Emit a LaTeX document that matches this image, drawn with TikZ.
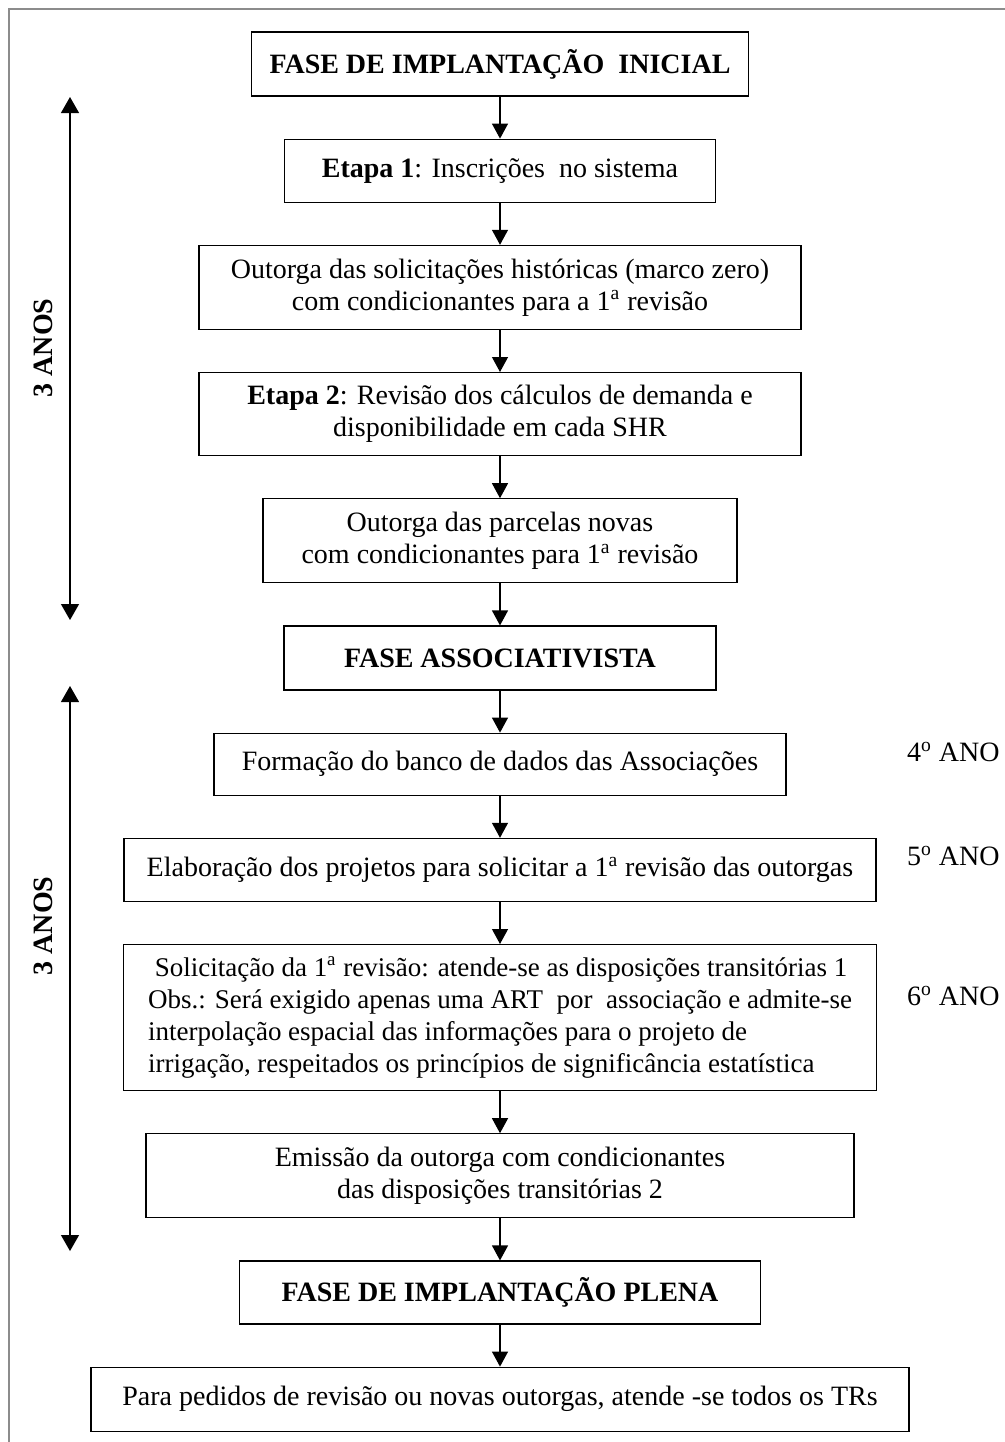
\documentclass[tikz,border=0pt]{standalone}
\usepackage{fontspec}
\setmainfont{Liberation Serif}
\usetikzlibrary{positioning,arrows.meta}
\definecolor{framegray}{gray}{0.55}

\begin{document}
\begin{tikzpicture}[node distance=21pt,
  box/.style={draw, line width=0.6pt, align=center, inner sep=2pt, font=\fontsize{14}{16}\selectfont},
  fase/.style={box, font=\fontsize{14}{16}\selectfont\bfseries},
  arr/.style={-{Triangle[length=7.5pt,width=8pt]}, line width=0.6pt},
  dbl/.style={{Triangle[length=8pt,width=9pt]}-{Triangle[length=8pt,width=9pt]}, line width=0.6pt},
  ano/.style={font=\fontsize{14}{16}\selectfont, anchor=west}]
\useasboundingbox (0,0) rectangle (502.5pt,-721pt);
\draw[framegray, line width=1pt] (4.5pt,-721pt) -- (4.5pt,-4.5pt) -- (502.5pt,-4.5pt);

% fluxo principal
\node[fase, minimum width=248.5pt, minimum height=32pt] (inicial) at (250pt,-32pt) {FASE DE IMPLANTAÇÃO\ \ INICIAL};
\node[box, minimum width=215.5pt, minimum height=31.5pt, below=of inicial] (etapa1) {\textbf{Etapa 1}: Inscrições\ \ no sistema};
\node[box, minimum width=301pt, minimum height=42pt, below=of etapa1] (historicas) {Outorga das solicitações históricas (marco zero)\\ com condicionantes para a 1\textsuperscript{a} revisão};
\node[box, minimum width=301pt, minimum height=41.5pt, below=of historicas] (etapa2) {\textbf{Etapa 2}: Revisão dos cálculos de demanda e\\ disponibilidade em cada SHR};
\node[box, minimum width=237pt, minimum height=42pt, below=of etapa2] (novas) {Outorga das parcelas novas\\ com condicionantes para 1\textsuperscript{a} revisão};
\node[fase, minimum width=216pt, minimum height=32pt, below=of novas] (assoc) {FASE ASSOCIATIVISTA};
\node[box, minimum width=286pt, minimum height=31pt, below=of assoc] (banco) {Formação do banco de dados das Associações};
\node[box, minimum width=376pt, minimum height=31.5pt, below=of banco] (projetos) {Elaboração dos projetos para solicitar a 1\textsuperscript{a} revisão das outorgas};
\node[box, minimum width=376.5pt, minimum height=73pt, align=left, font=\fontsize{13.5}{16}\selectfont, below=of projetos] (solicit) {\ Solicitação da 1\textsuperscript{a} revisão: atende-se as disposições transitórias 1\\ Obs.: Será exigido apenas uma ART\ \ por\ \ associação e admite-se\\ interpolação espacial das informações para o projeto de\\ irrigação, respeitados os princípios de significância estatística};
\node[box, minimum width=354pt, minimum height=42pt, below=of solicit] (emissao) {Emissão da outorga com condicionantes\\ das disposições transitórias 2};
\node[fase, minimum width=260.5pt, minimum height=31.5pt, below=of emissao] (plena) {FASE DE IMPLANTAÇÃO PLENA};
\node[box, minimum width=409pt, minimum height=32pt, below=of plena] (todos) {Para pedidos de revisão ou novas outorgas, atende -se todos os TRs};

\draw[arr] (inicial) -- (etapa1);
\draw[arr] (etapa1) -- (historicas);
\draw[arr] (historicas) -- (etapa2);
\draw[arr] (etapa2) -- (novas);
\draw[arr] (novas) -- (assoc);
\draw[arr] (assoc) -- (banco);
\draw[arr] (banco) -- (projetos);
\draw[arr] (projetos) -- (solicit);
\draw[arr] (solicit) -- (emissao);
\draw[arr] (emissao) -- (plena);
\draw[arr] (plena) -- (todos);

% periodos
\coordinate (topo1) at (35pt,-48.5pt);
\coordinate (base1) at (35pt,-310pt);
\coordinate (topo2) at (35pt,-343pt);
\coordinate (base2) at (35pt,-625.5pt);
\draw[dbl] (topo1) -- (base1);
\draw[dbl] (topo2) -- (base2);
\node[rotate=90, font=\fontsize{14}{16}\selectfont\bfseries] (anos1) at (21.5pt,-174pt) {3 ANOS};
\node[rotate=90, font=\fontsize{14}{16}\selectfont\bfseries] (anos2) at (21.5pt,-463pt) {3 ANOS};

\node[ano] (ano4) at (450pt,-376pt) {4\textsuperscript{o} ANO};
\node[ano] (ano5) at (450pt,-428pt) {5\textsuperscript{o} ANO};
\node[ano] (ano6) at (450pt,-498pt) {6\textsuperscript{o} ANO};
\end{tikzpicture}
\end{document}
